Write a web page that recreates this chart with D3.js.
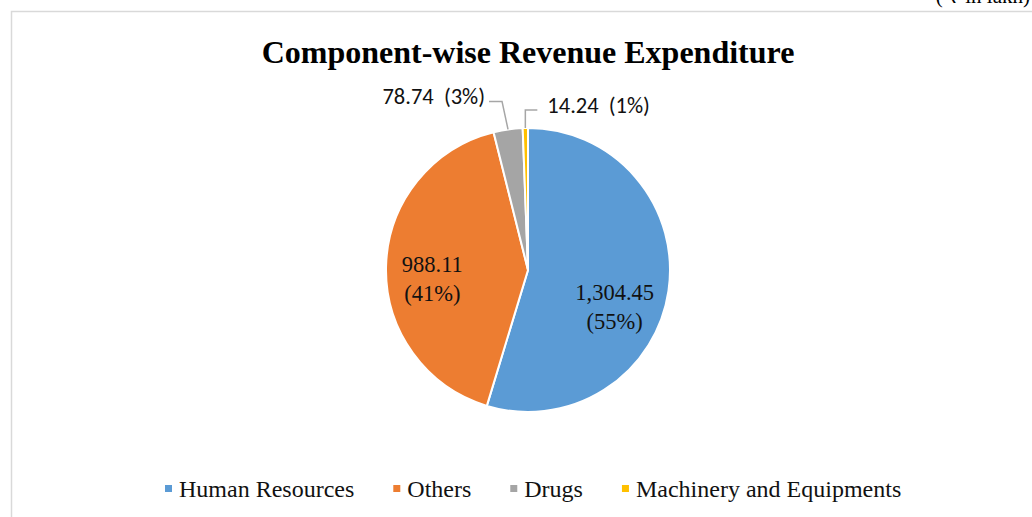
<!DOCTYPE html>
<html>
<head>
<meta charset="utf-8">
<script src="https://cdn.jsdelivr.net/npm/d3@7"></script>
<style>
  body { margin: 0; background: #fff; }
  svg { display: block; }
</style>
</head>
<body>
<div id="chart"></div>
<script>
// values in lakh
const categories = ["Human Resources", "Others", "Drugs", "Machinery and Equipments"];
const values = [1304.45, 988.11, 78.74, 14.24];
const percentLabels = ["55%", "41%", "3%", "1%"];
const colors = ["#5B9BD5", "#ED7D31", "#A5A5A5", "#FFC000"];

const W = 1032, H = 517;
const cx = 528, cy = 270, r = 142;

let svg = d3.select("#chart").append("svg")
    .attr("width", W)
    .attr("height", H);

// chart area border (runs off the right/bottom like the screenshot)
svg.append("rect")
    .attr("x", 11.5).attr("y", 11.5)
    .attr("width", W + 20).attr("height", H + 20)
    .attr("fill", "none")
    .attr("stroke", "#d9d9d9")
    .attr("stroke-width", 1.5);

const serif = "'Liberation Serif', 'Times New Roman', serif";
const sans = "Carlito, Lato, 'Open Sans', sans-serif";

// unit note, mostly cut off at the top edge
svg.append("text")
    .attr("x", 1030).attr("y", 3)
    .attr("text-anchor", "end")
    .style("font-family", serif)
    .style("font-size", "21px")
    .text("( ₹ in lakh)");

svg.append("text")
    .attr("x", cx).attr("y", 63)
    .attr("text-anchor", "middle")
    .style("font-family", serif)
    .style("font-weight", "bold")
    .style("font-size", "32px")
    .text("Component-wise Revenue Expenditure");

let pie = d3.pie().sort(null).value(d => d);
let arcs = pie(values);
let arc = d3.arc().innerRadius(0).outerRadius(r);
let labelArc = d3.arc().innerRadius(r * 0.66).outerRadius(r * 0.66);

let g = svg.append("g").attr("transform", `translate(${cx},${cy})`);

g.selectAll("path.slice")
    .data(arcs)
    .enter().append("path")
    .attr("class", "slice")
    .attr("d", arc)
    .attr("fill", (d, i) => colors[i])
    .attr("stroke", "#fff")
    .attr("stroke-width", 2);

const fmt = d3.format(",.2f");

// inside labels for the two large slices
arcs.slice(0, 2).forEach(function(d, i) {
    let c = labelArc.centroid(d);
    let shift = i == 0 ? [-6, 16] : [-2, 4];
    let t = g.append("text")
        .attr("transform", `translate(${c[0] + shift[0]},${c[1] + shift[1]})`)
        .attr("text-anchor", "middle")
        .style("font-family", serif)
        .style("font-size", "22.5px")
        .attr("fill", "#111");
    t.append("tspan")
        .attr("x", 0).attr("y", 0)
        .text(fmt(values[i]));
    t.append("tspan")
        .attr("x", 0).attr("dy", "1.3em")
        .text("(" + percentLabels[i] + ")");
});

// outside labels with leader lines for the small slices
arcs.slice(2).forEach(function(d, k) {
    let i = k + 2;
    let a = (d.startAngle + d.endAngle) / 2;
    let edge = [Math.sin(a) * r, -Math.cos(a) * r];
    let pts, tx, ty, anchor;
    if (i == 2) {
        let bend = [edge[0] - 6, edge[1] - 28];
        pts = [edge, bend, [bend[0] - 13, bend[1]]];
        tx = bend[0] - 17; ty = bend[1] + 3; anchor = "end";
    } else {
        let bend = [edge[0], edge[1] - 18];
        pts = [edge, bend, [bend[0] + 12, bend[1]]];
        tx = bend[0] + 22; ty = bend[1] + 3; anchor = "start";
    }
    g.append("path")
        .attr("d", d3.line()(pts))
        .attr("fill", "none")
        .attr("stroke", "#a6a6a6")
        .attr("stroke-width", 1.5);
    g.append("text")
        .attr("x", tx).attr("y", ty)
        .attr("text-anchor", anchor)
        .style("font-family", sans)
        .style("font-size", "22.5px")
        .style("white-space", "pre")
        .attr("fill", "#111")
        .text(fmt(values[i]) + "  (" + percentLabels[i] + ")");
});

// legend
let legend = svg.append("g").attr("transform", "translate(0,489)");
let lx = 165;
categories.forEach(function(name, i) {
    let item = legend.append("g").attr("transform", `translate(${lx},0)`);
    item.append("rect")
        .attr("x", 0).attr("y", -4)
        .attr("width", 7).attr("height", 7)
        .attr("fill", colors[i]);
    let t = item.append("text")
        .attr("x", 14).attr("y", 8)
        .style("font-family", serif)
        .style("font-size", "24px")
        .attr("fill", "#111")
        .text(name);
    lx += 14 + t.node().getComputedTextLength() + 39;
});
</script>
</body>
</html>
